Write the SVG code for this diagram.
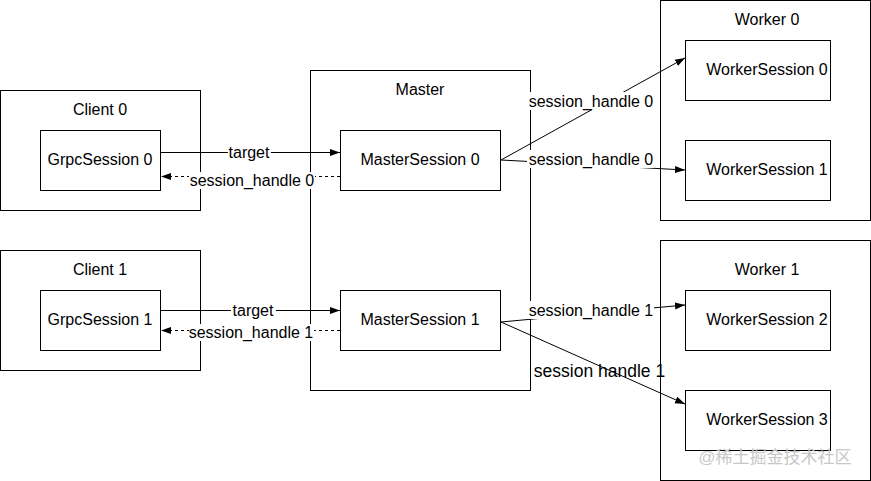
<svg xmlns="http://www.w3.org/2000/svg" width="871" height="481" viewBox="0 0 871 481">
<style>
rect{fill:#fff;stroke:#000;stroke-width:1}
text{font-family:"Liberation Sans",Arial,sans-serif;font-size:16px;fill:#000;text-anchor:middle;dominant-baseline:central}
.ln{stroke:#000;stroke-width:1;fill:none}
.d{stroke-dasharray:3 3}
.bg{fill:#fff;stroke:none}
.big{font-size:17.5px}
.wm{font-family:"Liberation Sans","Noto Sans CJK SC",sans-serif;font-size:17px;fill:#c8c8c8}
</style>
<defs>
<marker id="ah" viewBox="0 0 10 10" refX="10" refY="5" markerWidth="10" markerHeight="10" markerUnits="userSpaceOnUse" orient="auto">
<path d="M0,1.5 L10,5 L0,8.5 Z" fill="#000"/>
</marker>
</defs>
<g id="client0"><rect x="0.5" y="90.5" width="200" height="120"/><text x="100" y="109">Client 0</text></g>
<g id="client1"><rect x="0.5" y="250.5" width="200" height="120"/><text x="100" y="269">Client 1</text></g>
<g id="master"><rect x="310.5" y="70.5" width="220" height="320"/><text x="420" y="89">Master</text></g>
<g id="worker0"><rect x="660.5" y="0.5" width="210" height="220"/><text x="767" y="19">Worker 0</text></g>
<g id="worker1"><rect x="660.5" y="240.5" width="210" height="240"/><text x="767" y="269">Worker 1</text></g>
<g id="grpc0"><rect x="40.5" y="130.5" width="120" height="60"/><text x="100" y="159">GrpcSession 0</text></g>
<g id="grpc1"><rect x="40.5" y="290.5" width="120" height="60"/><text x="100" y="319">GrpcSession 1</text></g>
<g id="ms0"><rect x="340.5" y="130.5" width="160" height="60"/><text x="420" y="159">MasterSession 0</text></g>
<g id="ms1"><rect x="340.5" y="290.5" width="160" height="60"/><text x="420" y="319">MasterSession 1</text></g>
<g id="ws0"><rect x="685.5" y="40.5" width="145" height="60"/><text x="767" y="69">WorkerSession 0</text></g>
<g id="ws1"><rect x="685.5" y="140.5" width="145" height="60"/><text x="767" y="169">WorkerSession 1</text></g>
<g id="ws2"><rect x="685.5" y="290.5" width="145" height="60"/><text x="767" y="319">WorkerSession 2</text></g>
<g id="ws3"><rect x="685.5" y="390.5" width="145" height="60"/><text x="767" y="419">WorkerSession 3</text></g>
<g id="connectors">
<line class="ln" x1="161" y1="152.5" x2="340" y2="152.5" marker-end="url(#ah)"/>
<rect class="bg" x="228" y="144" width="43" height="17"/><text x="249" y="152">target</text>
<line class="ln d" x1="340" y1="176.5" x2="161" y2="176.5" marker-end="url(#ah)"/>
<rect class="bg" x="189" y="172" width="126" height="17"/><text x="252" y="180">session_handle 0</text>
<line class="ln" x1="161" y1="310.5" x2="340" y2="310.5" marker-end="url(#ah)"/>
<rect class="bg" x="231" y="302" width="45" height="17"/><text x="253" y="310">target</text>
<line class="ln d" x1="340" y1="330.5" x2="161" y2="330.5" marker-end="url(#ah)"/>
<rect class="bg" x="189" y="324" width="125" height="17"/><text x="251" y="332">session_handle 1</text>
<line class="ln" x1="501" y1="160" x2="685" y2="58" marker-end="url(#ah)"/>
<rect class="bg" x="528" y="92" width="127" height="18"/><text x="591" y="101">session_handle 0</text>
<line class="ln" x1="501" y1="160" x2="685" y2="170" marker-end="url(#ah)"/>
<rect class="bg" x="527" y="150" width="127" height="18"/><text x="591" y="159">session_handle 0</text>
<line class="ln" x1="501" y1="322" x2="685" y2="305" marker-end="url(#ah)"/>
<rect class="bg" x="528" y="301" width="126" height="18"/><text x="591" y="310">session_handle 1</text>
<text class="big" x="599.5" y="371">session handle 1</text>
<line class="ln" x1="501" y1="322" x2="685" y2="404" marker-end="url(#ah)"/>
</g>
<text class="wm" x="775" y="457">@稀土掘金技术社区</text>
</svg>
